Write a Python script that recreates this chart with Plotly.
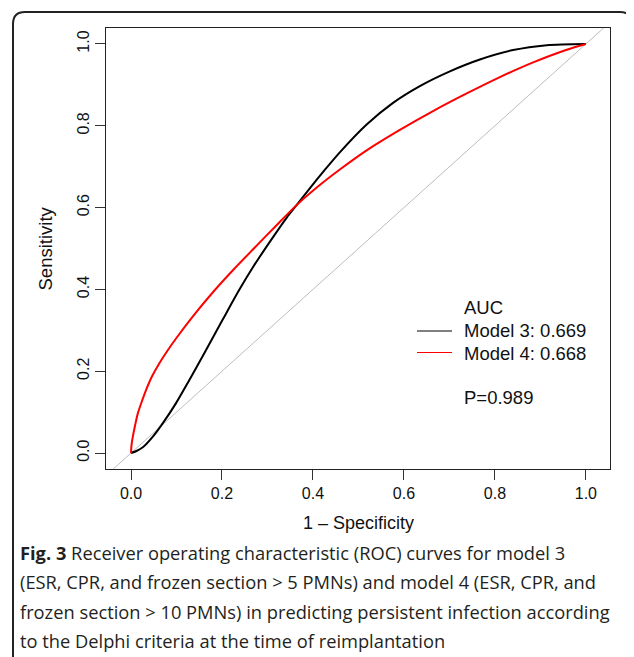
import plotly.graph_objects as go

# ---- data ----
m3_fpr = [0, 0.012, 0.026, 0.048, 0.070, 0.099, 0.128, 0.165, 0.201, 0.238, 0.269, 0.313,
          0.342, 0.364, 0.393, 0.426, 0.459, 0.518, 0.576, 0.635, 0.701, 0.767, 0.840,
          0.914, 1.0]
m3_tpr = [0, 0.005, 0.014, 0.040, 0.073, 0.122, 0.178, 0.252, 0.325, 0.399, 0.456, 0.529,
          0.575, 0.606, 0.647, 0.692, 0.735, 0.803, 0.856, 0.897, 0.933, 0.962, 0.985,
          0.997, 1.0]
m4_fpr = [0, 0.001, 0.004, 0.009, 0.015, 0.024, 0.033, 0.046, 0.062, 0.080, 0.099, 0.136,
          0.180, 0.225, 0.270, 0.320, 0.364, 0.415, 0.459, 0.518, 0.591, 0.664, 0.738,
          0.811, 0.884, 0.958, 1.0]
m4_tpr = [0, 0.018, 0.040, 0.068, 0.097, 0.127, 0.154, 0.187, 0.219, 0.250, 0.280, 0.334,
          0.393, 0.448, 0.500, 0.557, 0.606, 0.655, 0.693, 0.740, 0.790, 0.836, 0.879,
          0.919, 0.955, 0.986, 1.0]
diag = [-0.2, 1.2]
tick_vals = [0.0, 0.2, 0.4, 0.6, 0.8, 1.0]
tick_text = ["0.0", "0.2", "0.4", "0.6", "0.8", "1.0"]
legend_title = "AUC"
legend_labels = ["Model 3: 0.669", "Model 4: 0.668"]
p_text = "P=0.989"
caption_lines = [
    "<b>Fig. 3</b> Receiver operating characteristic (ROC) curves for model 3",
    "(ESR, CPR, and frozen section &gt; 5 PMNs) and model 4 (ESR, CPR, and",
    "frozen section &gt; 10 PMNs) in predicting persistent infection according",
    "to the Delphi criteria at the time of reimplantation",
]

# ---- layout geometry (screen pixels of the 634x657 window) ----
OFF = 8                    # default page body margin
W, H = 634, 657
L, R, T, B = 106, 610, 28, 469


def px(x):
    return (x - L) / (R - L)


def py(y):
    return (B - y) / (B - T)


AX_FONT = "Liberation Sans, Arial, Helvetica, sans-serif"
CAP_FONT = "Open Sans, sans-serif"

fig = go.Figure()
fig.add_trace(go.Scatter(x=diag, y=diag, mode="lines",
                         line=dict(color="#bdbdbd", width=1), hoverinfo="skip"))
fig.add_trace(go.Scatter(x=m3_fpr, y=m3_tpr, mode="lines",
                         line=dict(color="black", width=2, shape="spline", smoothing=0.8),
                         name=legend_labels[0]))
fig.add_trace(go.Scatter(x=m4_fpr, y=m4_tpr, mode="lines",
                         line=dict(color="#ff0000", width=2, shape="spline", smoothing=0.8),
                         name=legend_labels[1]))

axis_common = dict(
    tickvals=tick_vals, ticktext=tick_text, ticks="outside", ticklen=10,
    tickwidth=1, tickcolor="#333", showline=True, linecolor="#222", linewidth=1.2,
    mirror=True, showgrid=False, zeroline=False,
    tickfont=dict(family=AX_FONT, size=16, color="#111"),
)

fig.update_layout(
    width=W - OFF, height=H - OFF,
    margin=dict(l=L - OFF, r=W - R, t=T - OFF, b=H - B),
    paper_bgcolor="white", plot_bgcolor="white",
    showlegend=False,
    xaxis=dict(range=[-0.055, 1.053], **axis_common),
    yaxis=dict(range=[-0.039, 1.039], tickangle=-90, **axis_common),
)

annotations = []
# axis titles
annotations.append(dict(text="1 \u2013 Specificity", x=px(358), y=py(523),
                        xref="paper", yref="paper", showarrow=False,
                        xanchor="center", yanchor="middle",
                        font=dict(family=AX_FONT, size=18, color="#111")))
annotations.append(dict(text="Sensitivity", x=px(45), y=py(248.5),
                        xref="paper", yref="paper", showarrow=False, textangle=-90,
                        xanchor="center", yanchor="middle",
                        font=dict(family=AX_FONT, size=18.5, color="#111")))
# legend texts
leg_font = dict(family=AX_FONT, size=18.5, color="#111")
for txt, yy in [(legend_title, 307), (legend_labels[0], 330),
                (legend_labels[1], 353), (p_text, 397)]:
    annotations.append(dict(text=txt, x=px(462), y=py(yy), xref="paper", yref="paper",
                            showarrow=False, xanchor="left", yanchor="middle",
                            font=leg_font))
# caption
for i, line in enumerate(caption_lines):
    annotations.append(dict(text=line, x=px(18), y=py(552 + i * 29.5),
                            xref="paper", yref="paper", showarrow=False,
                            xanchor="left", yanchor="middle",
                            font=dict(family=CAP_FONT, size=18.3, color="#231f20")))
fig.update_layout(annotations=annotations)

shapes = []
# legend line keys
shapes.append(dict(type="line", xref="paper", yref="paper", x0=px(417), x1=px(452),
                   y0=py(331), y1=py(331), line=dict(color="black", width=1)))
shapes.append(dict(type="line", xref="paper", yref="paper", x0=px(417), x1=px(452),
                   y0=py(352.5), y1=py(352.5), line=dict(color="#ff0000", width=1)))
# outer rounded frame (clipped at bottom)
r = 12
fx0, fy0, fx1, fy1 = 13, 12, 632, 680
path = (f"M {px(fx0)},{py(fy1)} L {px(fx0)},{py(fy0 + r)} "
        f"Q {px(fx0)},{py(fy0)} {px(fx0 + r)},{py(fy0)} "
        f"L {px(fx1 - r)},{py(fy0)} Q {px(fx1)},{py(fy0)} {px(fx1)},{py(fy0 + r)} "
        f"L {px(fx1)},{py(fy1)}")
shapes.append(dict(type="path", xref="paper", yref="paper", path=path,
                   line=dict(color="#222", width=2)))
fig.update_layout(shapes=shapes)

fig.write_html("out.html")
